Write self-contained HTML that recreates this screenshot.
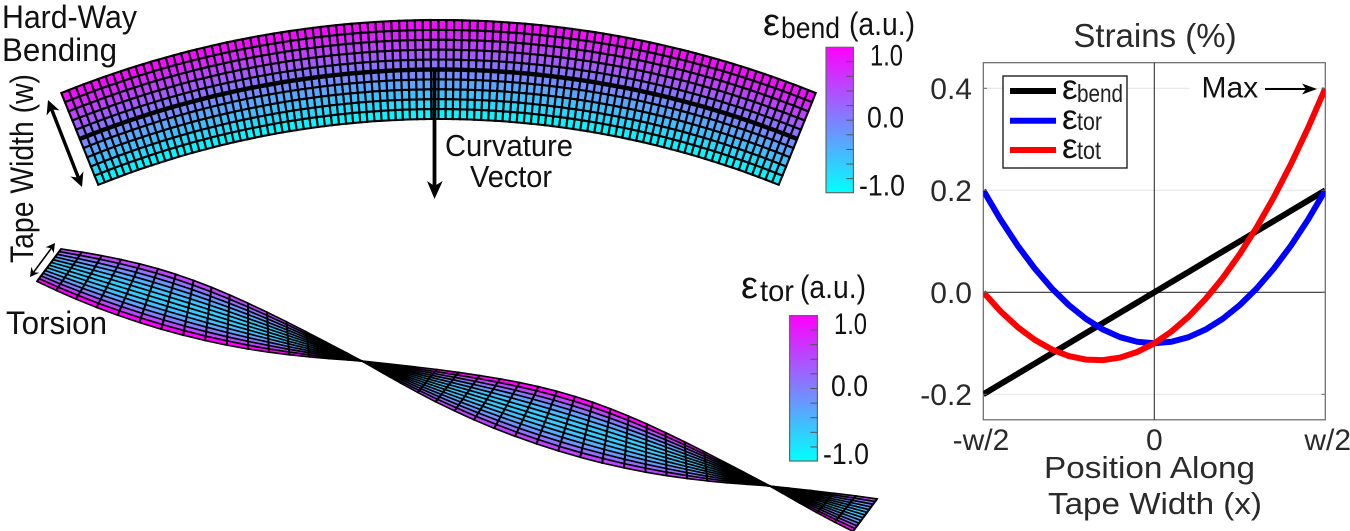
<!DOCTYPE html>
<html lang="en">
<head>
<meta charset="utf-8">
<title>Tape strain figure</title>
<style>
html,body{margin:0;padding:0;background:#fff;}
svg{display:block;font-family:"Liberation Sans",sans-serif;}
.l{fill:#111;font-size:32px;}
.c{fill:#111;font-size:31px;}
.r{fill:#2a2a2a;font-size:30px;}
</style>
</head>
<body>
<svg id="fig" xmlns="http://www.w3.org/2000/svg" width="1350" height="531" viewBox="0 0 1350 531">
<defs>
<linearGradient id="cool" x1="0" y1="1" x2="0" y2="0"><stop offset="0" stop-color="#00ffff"/><stop offset="1" stop-color="#ff00ff"/></linearGradient>
<clipPath id="plotClip"><rect x="983.3" y="62.7" width="342" height="357.1"/></clipPath>
</defs>
<rect width="1350" height="531" fill="#fff"/>

<g id="bentMesh"></g>
<text class="l" x="2" y="28" textLength="135" lengthAdjust="spacingAndGlyphs">Hard-Way</text>
<text class="l" x="2" y="61" textLength="115" lengthAdjust="spacingAndGlyphs">Bending</text>
<text class="l" transform="translate(33 263) rotate(-90)" textLength="189" lengthAdjust="spacingAndGlyphs">Tape Width (w)</text>
<g>
<line x1="51.6" y1="109.3" x2="78.4" y2="177.7" stroke="#000" stroke-width="3.4"/>
<polygon points="82,187 83.4,171.5 78.4,177.7 70.4,176.5" fill="#000"/>
<polygon points="48,100 59.6,110.5 51.6,109.3 46.6,115.5" fill="#000"/>
</g>
<g>
<line x1="434.5" y1="68" x2="434.5" y2="187" stroke="#000" stroke-width="3.8"/>
<polygon points="434.5,199 442.7,181 434.5,186 427,181" fill="#000"/>
</g>
<text class="c" x="445" y="156" textLength="128" lengthAdjust="spacingAndGlyphs">Curvature</text>
<text class="c" x="470" y="187" textLength="82" lengthAdjust="spacingAndGlyphs">Vector</text>

<g>
<rect x="826" y="47.3" width="27.4" height="145.4" fill="url(#cool)" stroke="#666" stroke-width="1.2"/>
<g id="bendTicks" stroke="#555" stroke-width="1"></g>
<text x="763" y="35" font-size="38" fill="#111">ε</text>
<text x="781" y="38" font-size="30" fill="#111" textLength="59" lengthAdjust="spacingAndGlyphs">bend</text>
<text x="849" y="35" font-size="32" fill="#111" textLength="66" lengthAdjust="spacingAndGlyphs">(a.u.)</text>
<text x="870" y="65.7" font-size="30" fill="#111" textLength="33" lengthAdjust="spacingAndGlyphs">1.0</text>
<text x="867" y="127.7" font-size="30" fill="#111" textLength="37" lengthAdjust="spacingAndGlyphs">0.0</text>
<text x="859" y="195.7" font-size="30" fill="#111" textLength="46" lengthAdjust="spacingAndGlyphs">-1.0</text>
</g>

<g id="twistMesh"></g>
<text class="l" x="6" y="334" textLength="101" lengthAdjust="spacingAndGlyphs">Torsion</text>
<g>
<line x1="51.4" y1="248.2" x2="33.6" y2="272.2" stroke="#000" stroke-width="1.6"/>
<polygon points="30,277 39.3,272.7 33.6,272.2 31.3,266.7" fill="#000"/>
<polygon points="55,243 53.7,253.3 51.4,248.2 45.7,247.3" fill="#000"/>
</g>

<g>
<rect x="789.6" y="315.6" width="27.8" height="145.4" fill="url(#cool)" stroke="#666" stroke-width="1.2"/>
<g id="torTicks" stroke="#555" stroke-width="1"></g>
<text x="741" y="298" font-size="38" fill="#111">ε</text>
<text x="760" y="301" font-size="30" fill="#111" textLength="34" lengthAdjust="spacingAndGlyphs">tor</text>
<text x="800" y="298" font-size="32" fill="#111" textLength="66" lengthAdjust="spacingAndGlyphs">(a.u.)</text>
<text x="834" y="334" font-size="30" fill="#111" textLength="33" lengthAdjust="spacingAndGlyphs">1.0</text>
<text x="831" y="396" font-size="30" fill="#111" textLength="37" lengthAdjust="spacingAndGlyphs">0.0</text>
<text x="823" y="464" font-size="30" fill="#111" textLength="46" lengthAdjust="spacingAndGlyphs">-1.0</text>
</g>

<g id="plot">
<text class="r" x="1155" y="47" style="font-size:33px" text-anchor="middle">Strains (%)</text>
<rect x="983.3" y="62.7" width="342" height="357.1" fill="#fff" stroke="#666" stroke-width="1.2"/>
<g id="gridLayer"></g>
<g id="seriesLayer" clip-path="url(#plotClip)"></g>
<g id="tickLayer"></g>
<rect x="1190" y="78" width="70" height="24" fill="#fff"/>
<text x="1201.5" y="97.3" font-size="30" fill="#111">Max</text>
<g>
<line x1="1265" y1="89" x2="1308" y2="89" stroke="#000" stroke-width="2"/>
<polygon points="1317,89 1302,83.5 1306,89 1302,94.5" fill="#000"/>
</g>
<g>
<rect x="1003" y="76" width="124" height="92" fill="#fff" stroke="#222" stroke-width="1.4"/>
<g>
<line x1="1010" y1="91" x2="1056" y2="91" stroke="#000" stroke-width="6"/>
<text x="1062" y="99" font-size="35" fill="#111">ε</text>
<text x="1077" y="102" font-size="25" fill="#222" textLength="46" lengthAdjust="spacingAndGlyphs">bend</text>
</g>
<g>
<line x1="1010" y1="120.7" x2="1056" y2="120.7" stroke="#00f" stroke-width="6"/>
<text x="1062" y="129" font-size="35" fill="#111">ε</text>
<text x="1077" y="130" font-size="25" fill="#222" textLength="25" lengthAdjust="spacingAndGlyphs">tor</text>
</g>
<g>
<line x1="1010" y1="150" x2="1056" y2="150" stroke="#f00" stroke-width="6"/>
<text x="1062" y="158" font-size="35" fill="#111">ε</text>
<text x="1077" y="159" font-size="25" fill="#222" textLength="24" lengthAdjust="spacingAndGlyphs">tot</text>
</g>
</g>
<text class="r" x="1044" y="478" textLength="211" lengthAdjust="spacingAndGlyphs" style="font-size:31px">Position Along</text>
<text class="r" x="1048" y="514" textLength="214" lengthAdjust="spacingAndGlyphs" style="font-size:31px">Tape Width (x)</text>
</g>
</svg>

<script>
var positions = [-1,-0.9,-0.8,-0.7,-0.6,-0.5,-0.4,-0.3,-0.2,-0.1,0,0.1,0.2,0.3,0.4,0.5,0.6,0.7,0.8,0.9,1];
var strainBend = [-0.2,-0.18,-0.16,-0.14,-0.12,-0.1,-0.08,-0.06,-0.04,-0.02,0,0.02,0.04,0.06,0.08,0.1,0.12,0.14,0.16,0.18,0.2];
var strainTor = [0.2,0.143,0.092,0.047,0.008,-0.025,-0.052,-0.073,-0.088,-0.097,-0.1,-0.097,-0.088,-0.073,-0.052,-0.025,0.008,0.047,0.092,0.143,0.2];
var strainTot = [0,-0.037,-0.068,-0.093,-0.112,-0.125,-0.132,-0.133,-0.128,-0.117,-0.1,-0.077,-0.048,-0.013,0.028,0.075,0.128,0.187,0.252,0.323,0.4];
var yTickValues = [0.4,0.2,0,-0.2];
var yTickLabels = ["0.4","0.2","0.0","-0.2"];
var xTickValues = [-1,0,1];
var xTickLabels = ["-w/2","0","w/2"];

var NS = 'http://www.w3.org/2000/svg';
function xScale(v){ return 1154.3 + v * 171; }
function yScale(v){ return 292.3 - v * 510; }
function mk(tag, parent, attrs){
  var el = document.createElementNS(NS, tag);
  for (var k in attrs) el.setAttribute(k, attrs[k]);
  parent.appendChild(el);
  return el;
}
function cool(t){
  t = Math.max(0, Math.min(1, t));
  return 'rgb(' + Math.round(255*t) + ',' + Math.round(255*(1-t)) + ',255)';
}

/* chart */
var gridLayer = document.getElementById('gridLayer');
var tickLayer = document.getElementById('tickLayer');
var seriesLayer = document.getElementById('seriesLayer');
yTickValues.forEach(function(v, i){
  var y = yScale(v);
  if (v !== 0) {
    var g = mk('line', gridLayer, {x1:983.3, x2:1325.3, y1:y, y2:y, stroke:'#e4e4e4', 'stroke-width':1});
    
    
  }
  var tl = mk('line', tickLayer, {x1:983.3, x2:987, y1:y, y2:y, stroke:'#666', 'stroke-width':1});
  
  
  var tr = mk('line', tickLayer, {x1:1321.6, x2:1325.3, y1:y, y2:y, stroke:'#666', 'stroke-width':1});
  
  
  var t = mk('text', tickLayer, {x:972, y:y+10.8, 'text-anchor':'end', 'class':'r'});
  
  
  t.textContent = yTickLabels[i];
});
xTickValues.forEach(function(v, i){
  var x = xScale(v);
  var t = mk('text', tickLayer, {x:x, y:450, 'text-anchor':'middle', 'class':'r'});
  
  
  t.textContent = xTickLabels[i];
  if (i === 2) { t.setAttribute('text-anchor', 'end'); t.setAttribute('x', 1351); }
  if (i === 0) { t.setAttribute('x', 981); }
});
var zeroH = mk('line', gridLayer, {x1:983.3, x2:1325.3, y1:yScale(0), y2:yScale(0), stroke:'#333', 'stroke-width':1.1});


var zeroV = mk('line', gridLayer, {x1:xScale(0), x2:xScale(0), y1:62.7, y2:419.8, stroke:'#333', 'stroke-width':1.1});



function linePoints(vals){
  return vals.map(function(v, i){ return xScale(positions[i]).toFixed(2) + ',' + yScale(v).toFixed(2); }).join(' ');
}
var lineBend = mk('polyline', seriesLayer, {points:linePoints(strainBend), fill:'none', stroke:'#000', 'stroke-width':6, 'stroke-linejoin':'round'});


var lineTor = mk('polyline', seriesLayer, {points:linePoints(strainTor), fill:'none', stroke:'#00f', 'stroke-width':6, 'stroke-linejoin':'round'});


var lineTot = mk('polyline', seriesLayer, {points:linePoints(strainTot), fill:'none', stroke:'#f00', 'stroke-width':6, 'stroke-linejoin':'round'});



/* colourbar ticks */
[['bendTicks', 853.3, 61.7], ['torTicks', 817.4, 330]].forEach(function(c){
  var g = document.getElementById(c[0]);
  for (var i = 0; i < 9; i++) {
    var y = c[2] + i * 14.62;
    var tk = mk('line', g, {x1:c[1]-7, x2:c[1], y1:y, y2:y});
    
    
  }
});

/* bent tape mesh */
(function(){
  var g = document.getElementById('bentMesh');
  var cx = 438.5, cy = 1031, R0 = 1011, R1 = 912, half = 0.3823;
  var cols = 98, rows = 10;
  function pt(a, r){ return [cx + r*Math.sin(a), cy - r*Math.cos(a)]; }
  function s(p){ return p[0].toFixed(1) + ',' + p[1].toFixed(1); }
  for (var j = 0; j < rows; j++) {
    var r0 = R0 - (R0-R1)*j/rows, r1 = R0 - (R0-R1)*(j+1)/rows;
    var col = cool(1 - (j+0.5)/rows);
    for (var i = 0; i < cols; i++) {
      var a0 = -half + 2*half*i/cols, a1 = -half + 2*half*(i+1)/cols;
      var q = mk('polygon', g, {points:s(pt(a0,r0))+' '+s(pt(a1,r0))+' '+s(pt(a1,r1))+' '+s(pt(a0,r1)), fill:col, stroke:'#000', 'stroke-width':2.1});
      
      
    }
  }
  var d = '';
  for (var k = 0; k <= 60; k++) {
    var a = -half + 2*half*k/60;
    d += (k ? ' L' : 'M') + s(pt(a, (R0+R1)/2));
  }
  var neutral = mk('path', g, {d:d, fill:'none', stroke:'#000', 'stroke-width':4.4});
  
  
})();

/* twisted tape mesh */
(function(){
  var g = document.getElementById('twistMesh');
  var u0 = -0.767, u1 = 1.233, cols = 41, rows = 12;
  var A = 28.5, B = 13.6;
  var nx = 0.293, ny = -0.956, tx = 0.956, ty = 0.293;
  function P(u, v){
    var th = Math.PI*u, sn = Math.sin(th), cs = Math.cos(th);
    var a = v*sn*A, b = v*B*Math.abs(sn)*cs;
    return [362 + 408*u + a*nx + b*tx, 361 + 125*u + a*ny + b*ty];
  }
  function s(p){ return p[0].toFixed(1) + ',' + p[1].toFixed(1); }
  for (var i = 0; i < cols; i++) {
    var a = u0 + (u1-u0)*i/cols, b = u0 + (u1-u0)*(i+1)/cols;
    for (var j = 0; j < rows; j++) {
      var v0 = -1 + 2*j/rows, v1 = -1 + 2*(j+1)/rows, vm = (v0+v1)/2;
      var t = 0.2 + vm*vm*(vm > 0 ? 0.95 : 0.65);
      var q = mk('polygon', g, {points:s(P(a,v0))+' '+s(P(b,v0))+' '+s(P(b,v1))+' '+s(P(a,v1)), fill:cool(t), stroke:'#000', 'stroke-width':1.6});
      
      
    }
  }
  for (var c = 0; c <= cols; c++) {
    var u = u0 + (u1-u0)*c/cols;
    var ln = mk('line', g, {x1:P(u,-1)[0], y1:P(u,-1)[1], x2:P(u,1)[0], y2:P(u,1)[1], stroke:'#000', 'stroke-width':2});
    
    
  }
})();
</script>
</body>
</html>
